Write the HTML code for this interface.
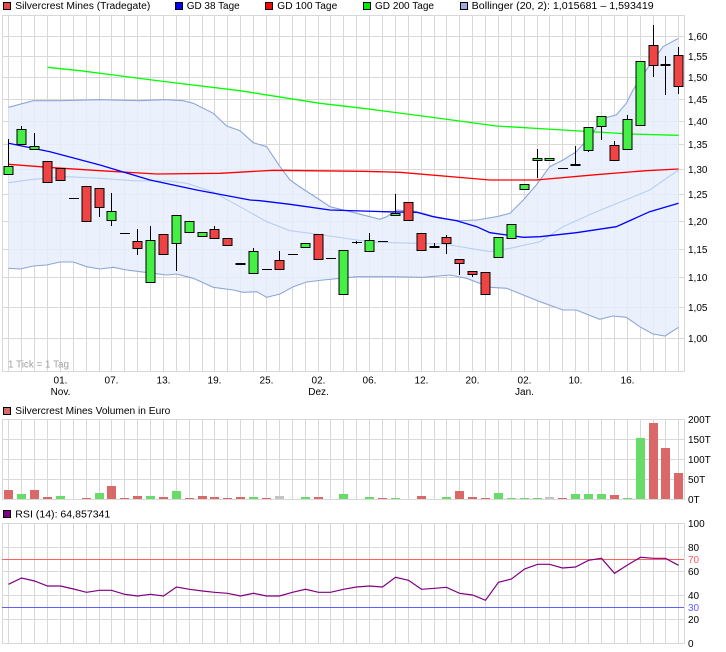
<!DOCTYPE html>
<html><head><meta charset="utf-8"><style>
html,body{margin:0;padding:0;background:#fff;}
svg{display:block;font-family:"Liberation Sans",Arial,sans-serif;}
</style></head><body>
<svg width="726" height="652" viewBox="0 0 726 652" xmlns="http://www.w3.org/2000/svg">
<rect x="0" y="0" width="726" height="652" fill="#fff"/>

<!-- ===== LEGEND TOP ===== -->
<g font-size="10" fill="#000">
<rect x="3.5" y="2.5" width="7" height="7" fill="#e84848" stroke="#000"/>
<text x="15.3" y="9.2" textLength="135" lengthAdjust="spacingAndGlyphs">Silvercrest Mines (Tradegate)</text>
<rect x="175.5" y="2.5" width="7" height="7" fill="#0000ff" stroke="#000"/>
<text x="186.7" y="9.2" textLength="53" lengthAdjust="spacingAndGlyphs">GD 38 Tage</text>
<rect x="265.5" y="2.5" width="7" height="7" fill="#ff0000" stroke="#000"/>
<text x="277.3" y="9.2" textLength="60" lengthAdjust="spacingAndGlyphs">GD 100 Tage</text>
<rect x="363.5" y="2.5" width="7" height="7" fill="#00ee00" stroke="#000"/>
<text x="375" y="9.2" textLength="59" lengthAdjust="spacingAndGlyphs">GD 200 Tage</text>
<rect x="460.5" y="2.5" width="7" height="7" fill="#98aee0" stroke="#000"/>
<text x="471.7" y="9.2" textLength="182" lengthAdjust="spacingAndGlyphs">Bollinger (20, 2): 1,015681 – 1,593419</text>
</g>

<!-- ===== MAIN CHART GRID ===== -->
<g stroke="#d8d8d8" stroke-width="1" shape-rendering="crispEdges">
<path d="M8.5 15V372M21.5 15V372M34.5 15V372M47.5 15V372M60.5 15V372M73.5 15V372M86.5 15V372M99.5 15V372M111.5 15V372M124.5 15V372M137.5 15V372M150.5 15V372M163.5 15V372M176.5 15V372M189.5 15V372M202.5 15V372M214.5 15V372M227.5 15V372M240.5 15V372M253.5 15V372M266.5 15V372M279.5 15V372M292.5 15V372M305.5 15V372M318.5 15V372M330.5 15V372M343.5 15V372M356.5 15V372M369.5 15V372M382.5 15V372M395.5 15V372M408.5 15V372M421.5 15V372M434.5 15V372M446.5 15V372M459.5 15V372M472.5 15V372M485.5 15V372M498.5 15V372M511.5 15V372M524.5 15V372M537.5 15V372M549.5 15V372M562.5 15V372M575.5 15V372M588.5 15V372M601.5 15V372M614.5 15V372M627.5 15V372M640.5 15V372M653.5 15V372M665.5 15V372M678.5 15V372"/>
<path d="M2 36.5H684M2 56.5H684M2 77.5H684M2 99.5H684M2 121.5H684M2 144.5H684M2 169.5H684M2 194.5H684M2 221.5H684M2 249.5H684M2 277.5H684M2 307.5H684M2 338.5H684"/>
<rect x="2.5" y="15.5" width="682" height="356" fill="none"/>
</g>

<!-- Bollinger fill -->
<polygon fill="#e8effb" fill-opacity="0.85" points="8.5,107.3 33.3,100.7 60,100.7 100,99.7 140,100.7 165,99.7 183.3,100.7 193.3,103.3 213.3,113.3 226.7,126 240,130.7 253.3,142.7 266.7,146.7 280,166.7 290,180 300,187 320,200 330,206.7 356.7,213.3 380,219.3 386.7,216.7 396.7,210 413.3,211 423.3,213.3 440,218.3 460,220.7 476.7,220 496.7,216.7 510,213.3 523.3,200 536.3,185 549.7,166.7 563,160 576.3,151.7 590,136.7 603,118.3 616.3,115 626.3,103.3 633,90 646.3,70 663,46.7 678.5,38.3 678.5,327.3 665,336 653,334 639.7,326.7 626.3,317.3 613,316 599.7,319.3 576.3,310 563,310 540,301.7 523.3,295 506.7,288.3 490,287.3 466.7,278.3 450,275 423.3,277.3 390,276.7 356.7,276.7 323.3,280 306.7,282 293.3,286.7 280,294 266.7,297.3 256.7,291.7 243.3,292.3 233.3,290 213.3,287.3 193.3,278.3 176.7,274 166.7,275 153.3,273.3 126.7,270 113.3,267.3 100,269 86.7,266.7 73.3,262 60,262 46.7,265 33.3,266 20,269 8.5,268.3"/>
<g fill="none" stroke-width="1.1">
<polyline stroke="#8ea6d8" points="8.5,107.3 33.3,100.7 60,100.7 100,99.7 140,100.7 165,99.7 183.3,100.7 193.3,103.3 213.3,113.3 226.7,126 240,130.7 253.3,142.7 266.7,146.7 280,166.7 290,180 300,187 320,200 330,206.7 356.7,213.3 380,219.3 386.7,216.7 396.7,210 413.3,211 423.3,213.3 440,218.3 460,220.7 476.7,220 496.7,216.7 510,213.3 523.3,200 536.3,185 549.7,166.7 563,160 576.3,151.7 590,136.7 603,118.3 616.3,115 626.3,103.3 633,90 646.3,70 663,46.7 678.5,38.3"/>
<polyline stroke="#8ea6d8" points="8.5,268.3 20,269 33.3,266 46.7,265 60,262 73.3,262 86.7,266.7 100,269 113.3,267.3 126.7,270 153.3,273.3 166.7,275 176.7,274 193.3,278.3 213.3,287.3 233.3,290 243.3,292.3 256.7,291.7 266.7,297.3 280,294 293.3,286.7 306.7,282 323.3,280 356.7,276.7 390,276.7 423.3,277.3 450,275 466.7,278.3 490,287.3 506.7,288.3 523.3,295 540,301.7 563,310 576.3,310 599.7,319.3 613,316 626.3,317.3 639.7,326.7 653,334 665,336 678.5,327.3"/>
<polyline stroke="#b8cef2" points="8.5,182.7 33.3,179.3 66.7,176.7 100,178.3 133.3,180.7 170,181 186.7,183.3 213.3,192 240,206.7 266.7,221.7 290,230.7 323.3,235 356.7,240 376.7,242.3 416.7,243.3 443.3,244 470,248.3 490,251.7 510,248.3 540,241.7 563,226.7 596.3,211.7 629.7,198.3 649.7,190 678.5,170"/>
</g>

<!-- Moving averages -->
<g fill="none" stroke-width="1.3">
<polyline stroke="#00ff00" points="47.5,67.3 80,70.7 160,81 240,90.7 320,103.3 363,108.3 429.7,117 496.3,126 563,130 629.7,134 678.5,135.3"/>
<polyline stroke="#ff0000" points="8.5,164.3 53,167.7 100,170.7 156.7,174 220,173.3 273,170.3 363,171.3 400,172.3 490,180 536.3,180 596,174.7 646,170.7 678.5,169"/>
<polyline stroke="#0000ff" points="8.5,143.3 50,151.7 100,165 150,180 196.7,190 250,200 260,200.7 290,204.3 330,210 383.3,211.7 416.7,212.3 433.3,216.7 456.7,220.7 476.7,226.7 490,232.7 506.7,235 523.3,237.3 540,236.7 576.3,232.7 616.3,226.7 649.7,211.7 678.5,203.3"/>
</g>

<!-- Candles: wicks -->
<g stroke="#000" stroke-width="1" shape-rendering="crispEdges">
<path d="M8.5 139V174M21.5 126V144M34.5 133V149M99.5 207V217M111.5 193V226M137.5 229V255M150.5 226V240M176.5 243V271M214.5 226V229M253.5 248V251M279.5 251V260M356.5 241V244M369.5 233V240M395.5 194V213M434.5 243V246M446.5 235V254M459.5 263V275M472.5 274V277M537.5 149V178M575.5 146V164M588.5 150V152M601.5 126V140M614.5 141V145M627.5 115V119M653.5 25V77M665.5 56V95M678.5 47V94"/>
<!-- flat (doji) lines -->
<path d="M69 198.5H79M120 233.5H130M262 269.5H272M288 254.5H298M326 258.5H336M352 242.5H362M378 241.5H388M558 168.5H568"/>
</g>
<g stroke="#000" stroke-width="1" shape-rendering="crispEdges">
<!-- green bodies -->
<g fill="#44f044">
<rect x="4" y="166.5" width="9" height="8"/>
<rect x="17" y="129.5" width="9" height="15"/>
<rect x="30" y="146.5" width="9" height="3"/>
<rect x="107" y="211.5" width="9" height="9"/>
<rect x="146" y="240.5" width="9" height="42"/>
<rect x="172" y="215.5" width="9" height="28"/>
<rect x="185" y="221.5" width="9" height="11"/>
<rect x="198" y="232.5" width="9" height="4"/>
<rect x="249" y="251.5" width="9" height="22"/>
<rect x="301" y="243.5" width="9" height="4"/>
<rect x="339" y="250.5" width="9" height="44"/>
<rect x="365" y="240.5" width="9" height="11"/>
<rect x="391" y="213.5" width="9" height="2"/>
<rect x="494" y="237.5" width="9" height="20"/>
<rect x="507" y="224.5" width="9" height="14"/>
<rect x="520" y="184.5" width="9" height="5"/>
<rect x="533" y="158.5" width="9" height="2"/>
<rect x="545" y="158.5" width="9" height="2"/>
<rect x="584" y="127.5" width="9" height="23"/>
<rect x="597" y="116.5" width="9" height="10"/>
<rect x="623" y="119.5" width="9" height="30"/>
<rect x="636" y="61.5" width="9" height="64"/>
</g>
<!-- red bodies -->
<g fill="#f04444">
<rect x="43" y="161.5" width="9" height="21"/>
<rect x="56" y="168.5" width="9" height="12"/>
<rect x="82" y="186.5" width="9" height="35"/>
<rect x="95" y="188.5" width="9" height="19"/>
<rect x="133" y="241.5" width="9" height="7"/>
<rect x="159" y="234.5" width="9" height="20"/>
<rect x="210" y="229.5" width="9" height="9"/>
<rect x="223" y="238.5" width="9" height="7"/>
<rect x="275" y="260.5" width="9" height="9"/>
<rect x="314" y="234.5" width="9" height="25"/>
<rect x="404" y="202.5" width="9" height="18"/>
<rect x="417" y="233.5" width="9" height="17"/>
<rect x="442" y="237.5" width="9" height="6"/>
<rect x="455" y="259.5" width="9" height="4"/>
<rect x="468" y="271.5" width="9" height="3"/>
<rect x="481" y="272.5" width="9" height="22"/>
<rect x="610" y="145.5" width="9" height="15"/>
<rect x="649" y="45.5" width="9" height="20"/>
<rect x="674" y="55.5" width="9" height="31"/>
</g>
<!-- thick doji -->
<g fill="#000">
<rect x="236" y="263.5" width="9" height="1"/>
<rect x="430" y="246.5" width="9" height="1"/>
<rect x="571" y="164.5" width="9" height="1"/>
<rect x="661" y="64.5" width="9" height="1"/>
</g>
</g>

<!-- main y labels -->
<g font-size="10" fill="#000">
<text x="688" y="40">1,60</text>
<text x="688" y="60">1,55</text>
<text x="688" y="81">1,50</text>
<text x="688" y="103">1,45</text>
<text x="688" y="125">1,40</text>
<text x="688" y="148">1,35</text>
<text x="688" y="173">1,30</text>
<text x="688" y="198">1,25</text>
<text x="688" y="225">1,20</text>
<text x="688" y="253">1,15</text>
<text x="688" y="281">1,10</text>
<text x="688" y="311">1,05</text>
<text x="688" y="342">1,00</text>
</g>
<text x="8" y="367.7" font-size="10" fill="#a0a0a0" textLength="61" lengthAdjust="spacingAndGlyphs">1 Tick = 1 Tag</text>

<!-- x labels -->
<g font-size="10" fill="#000" text-anchor="middle">
<text x="60.5" y="383.5">01.</text><text x="60.5" y="395">Nov.</text>
<text x="111.5" y="383.5">07.</text>
<text x="163.5" y="383.5">13.</text>
<text x="214.5" y="383.5">19.</text>
<text x="266.5" y="383.5">25.</text>
<text x="318.5" y="383.5">02.</text><text x="318.5" y="395">Dez.</text>
<text x="369.5" y="383.5">06.</text>
<text x="421.5" y="383.5">12.</text>
<text x="472.5" y="383.5">20.</text>
<text x="524.5" y="383.5">02.</text><text x="524.5" y="395">Jan.</text>
<text x="575.5" y="383.5">10.</text>
<text x="627.5" y="383.5">16.</text>
</g>

<!-- ===== VOLUME PANEL ===== -->
<rect x="3.5" y="407.5" width="7" height="7" fill="#da6868" stroke="#000"/>
<text x="15.3" y="414" font-size="10" textLength="155" lengthAdjust="spacingAndGlyphs">Silvercrest Mines Volumen in Euro</text>
<g stroke="#d8d8d8" stroke-width="1" shape-rendering="crispEdges">
<path d="M8.5 419V499M21.5 419V499M34.5 419V499M47.5 419V499M60.5 419V499M73.5 419V499M86.5 419V499M99.5 419V499M111.5 419V499M124.5 419V499M137.5 419V499M150.5 419V499M163.5 419V499M176.5 419V499M189.5 419V499M202.5 419V499M214.5 419V499M227.5 419V499M240.5 419V499M253.5 419V499M266.5 419V499M279.5 419V499M292.5 419V499M305.5 419V499M318.5 419V499M330.5 419V499M343.5 419V499M356.5 419V499M369.5 419V499M382.5 419V499M395.5 419V499M408.5 419V499M421.5 419V499M434.5 419V499M446.5 419V499M459.5 419V499M472.5 419V499M485.5 419V499M498.5 419V499M511.5 419V499M524.5 419V499M537.5 419V499M549.5 419V499M562.5 419V499M575.5 419V499M588.5 419V499M601.5 419V499M614.5 419V499M627.5 419V499M640.5 419V499M653.5 419V499M665.5 419V499M678.5 419V499"/>
<path d="M2 439.5H684M2 459.5H684M2 479.5H684"/>
<rect x="2.5" y="419.5" width="682" height="80" fill="none"/>
</g>
<g shape-rendering="crispEdges">
<g fill="#da6868">
<rect x="4" y="490" width="9" height="9"/>
<rect x="30" y="490" width="9" height="9"/>
<rect x="43" y="497" width="9" height="2"/>
<rect x="82" y="498" width="9" height="1"/>
<rect x="107" y="486" width="9" height="13"/>
<rect x="120" y="498" width="9" height="1"/>
<rect x="133" y="496" width="9" height="3"/>
<rect x="159" y="497" width="9" height="2"/>
<rect x="185" y="498" width="9" height="1"/>
<rect x="198" y="496" width="9" height="3"/>
<rect x="210" y="497" width="9" height="2"/>
<rect x="223" y="498" width="9" height="1"/>
<rect x="236" y="497" width="9" height="2"/>
<rect x="262" y="498" width="9" height="1"/>
<rect x="314" y="497" width="9" height="2"/>
<rect x="378" y="498" width="9" height="1"/>
<rect x="417" y="496" width="9" height="3"/>
<rect x="455" y="491" width="9" height="8"/>
<rect x="468" y="497" width="9" height="2"/>
<rect x="481" y="498" width="9" height="1"/>
<rect x="558" y="498" width="9" height="1"/>
<rect x="610" y="495" width="9" height="4"/>
<rect x="649" y="423" width="9" height="76"/>
<rect x="661" y="448" width="9" height="51"/>
<rect x="674" y="473" width="9" height="26"/>
</g>
<g fill="#68dc68">
<rect x="17" y="494" width="9" height="5"/>
<rect x="56" y="496" width="9" height="3"/>
<rect x="95" y="493" width="9" height="6"/>
<rect x="146" y="496" width="9" height="3"/>
<rect x="172" y="491" width="9" height="8"/>
<rect x="249" y="497" width="9" height="2"/>
<rect x="301" y="497" width="9" height="2"/>
<rect x="339" y="494" width="9" height="5"/>
<rect x="365" y="497" width="9" height="2"/>
<rect x="391" y="498" width="9" height="1"/>
<rect x="442" y="497" width="9" height="2"/>
<rect x="494" y="493" width="9" height="6"/>
<rect x="507" y="498" width="9" height="1"/>
<rect x="520" y="498" width="9" height="1"/>
<rect x="533" y="498" width="9" height="1"/>
<rect x="571" y="494" width="9" height="5"/>
<rect x="584" y="494" width="9" height="5"/>
<rect x="597" y="494" width="9" height="5"/>
<rect x="623" y="498" width="9" height="1"/>
<rect x="636" y="438" width="9" height="61"/>
</g>
<g fill="#c4c4c4">
<rect x="275" y="496" width="9" height="3"/>
<rect x="545" y="497" width="9" height="2"/>
</g>
</g>
<g font-size="10" fill="#000">
<text x="688" y="423">200T</text>
<text x="688" y="443">150T</text>
<text x="688" y="463">100T</text>
<text x="688" y="483">50T</text>
<text x="688" y="503">0T</text>
</g>

<!-- ===== RSI PANEL ===== -->
<rect x="3.5" y="510.5" width="7" height="7" fill="#800080" stroke="#000"/>
<text x="15.3" y="517.5" font-size="10" textLength="95" lengthAdjust="spacingAndGlyphs">RSI (14): 64,857341</text>
<g stroke="#d8d8d8" stroke-width="1" shape-rendering="crispEdges">
<path d="M8.5 523V643M21.5 523V643M34.5 523V643M47.5 523V643M60.5 523V643M73.5 523V643M86.5 523V643M99.5 523V643M111.5 523V643M124.5 523V643M137.5 523V643M150.5 523V643M163.5 523V643M176.5 523V643M189.5 523V643M202.5 523V643M214.5 523V643M227.5 523V643M240.5 523V643M253.5 523V643M266.5 523V643M279.5 523V643M292.5 523V643M305.5 523V643M318.5 523V643M330.5 523V643M343.5 523V643M356.5 523V643M369.5 523V643M382.5 523V643M395.5 523V643M408.5 523V643M421.5 523V643M434.5 523V643M446.5 523V643M459.5 523V643M472.5 523V643M485.5 523V643M498.5 523V643M511.5 523V643M524.5 523V643M537.5 523V643M549.5 523V643M562.5 523V643M575.5 523V643M588.5 523V643M601.5 523V643M614.5 523V643M627.5 523V643M640.5 523V643M653.5 523V643M665.5 523V643M678.5 523V643"/>
<path d="M2 547.5H684M2 571.5H684M2 595.5H684M2 619.5H684"/>
<rect x="2.5" y="523.5" width="682" height="120" fill="none"/>
</g>
<g stroke-width="1" shape-rendering="crispEdges">
<path d="M2 559.5H684" stroke="#ff6060"/>
<path d="M2 607.5H684" stroke="#6060ff"/>
</g>
<polyline fill="none" stroke="#800080" stroke-width="1.2" points="8.5,584.3 21.5,578 34.5,581 47.5,586 60.5,586 73.5,589 86.5,592.3 99.5,590.3 111.5,590.3 124.5,594.3 137.5,596 150.5,594.3 163.5,596 176.5,587 189.5,589.3 202.5,591 214.5,592.3 227.5,593.3 240.5,596 253.5,593.3 266.5,596 279.5,596 292.5,592.3 305.5,589.3 318.5,592.3 330.5,592.3 343.5,589.3 356.5,587 369.5,586 382.5,587 395.5,577.3 408.5,580.3 421.5,589.3 434.5,588.3 446.5,587.3 459.5,593.3 472.5,595 485.5,600.3 498.5,582.3 511.5,579 524.5,569 537.5,564.3 549.5,564.3 562.5,568 575.5,567 588.5,560.3 601.5,558.3 614.5,573.3 627.5,565 640.5,557.3 653.5,558.3 665.5,558.3 678.5,565.3"/>
<g font-size="10" fill="#000">
<text x="688" y="527">100</text>
<text x="688" y="551">80</text>
<text x="688" y="563" fill="#ff6060">70</text>
<text x="688" y="575">60</text>
<text x="688" y="599">40</text>
<text x="688" y="611" fill="#6060ff">30</text>
<text x="688" y="623">20</text>
<text x="688" y="647">0</text>
</g>
</svg>
</body></html>
